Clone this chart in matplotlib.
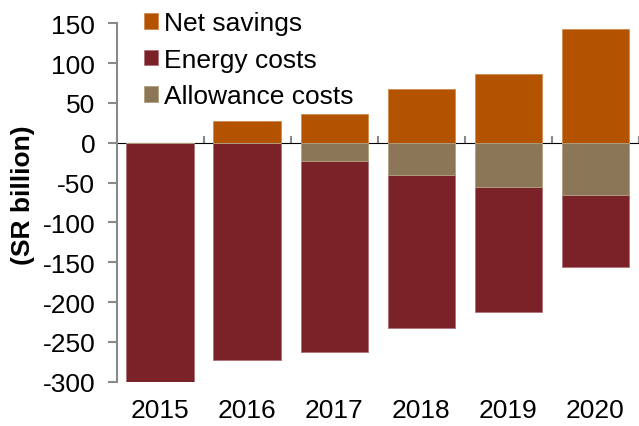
import numpy as np
import matplotlib
matplotlib.use("Agg")
import matplotlib.pyplot as plt

plt.rcParams['font.family'] = ['Liberation Sans', 'DejaVu Sans']
plt.rcParams['axes.unicode_minus'] = False

years = ['2015', '2016', '2017', '2018', '2019', '2020']
net_savings = [0, 27, 36, 67, 86, 143]
allowance_costs = [0, 0, -23, -41, -55, -66]
energy_costs = [-300, -273, -240, -191, -158, -90]

c_net = '#B35300'
c_energy = '#7B2229'
c_allow = '#8B7657'
c_axis = '#898989'

fig = plt.figure(figsize=(6.39, 4.27), dpi=100)
ax = fig.add_axes([0.1826, 0.1037, 0.8174, 0.8393])

x = np.arange(len(years))
w = 0.776
ax.bar(x, net_savings, w, color=c_net, edgecolor='#d08a50', linewidth=0.6,
       label='Net savings')
ax.bar(x, energy_costs, w, bottom=allowance_costs, color=c_energy,
       edgecolor='#b07078', linewidth=0.6, label='Energy costs')
ax.bar(x, allowance_costs, w, color=c_allow, edgecolor='#b0a080',
       linewidth=0.6, label='Allowance costs')

ax.set_xlim(-0.5, 5.5)
ax.set_ylim(-300, 150)
ax.set_yticks(np.arange(-300, 151, 50))

for s in ['top', 'right', 'bottom']:
    ax.spines[s].set_visible(False)
ax.spines['left'].set_color(c_axis)
ax.spines['left'].set_linewidth(1.5)

ax.tick_params(axis='y', length=6.5, width=1.5, color=c_axis, labelsize=19,
               pad=9)
ax.set_xticks(x)
ax.set_xticklabels(years)
ax.tick_params(axis='x', length=0, labelsize=19, pad=12)

# zero line with category separators
zero = ax.secondary_xaxis(300 / 450)
zero.spines['bottom'].set_color(c_axis)
zero.spines['bottom'].set_linewidth(1.5)
zero.set_xticks(np.arange(-0.5, 5.6, 1))
zero.set_xticklabels([])
zero.tick_params(length=5, width=1.5, color=c_axis)

ax.set_ylabel('(SR billion)', fontsize=19, fontweight='bold')
ax.yaxis.set_label_coords(-0.156, 0.524)

leg = ax.legend(loc='upper left', bbox_to_anchor=(0.2254, 0.971),
                bbox_transform=fig.transFigure, frameon=False, fontsize=19,
                handlelength=0.52, handleheight=0.52, handletextpad=0.22,
                labelspacing=0.47, borderpad=0, borderaxespad=0)

fig.savefig('out.png', dpi=100)
